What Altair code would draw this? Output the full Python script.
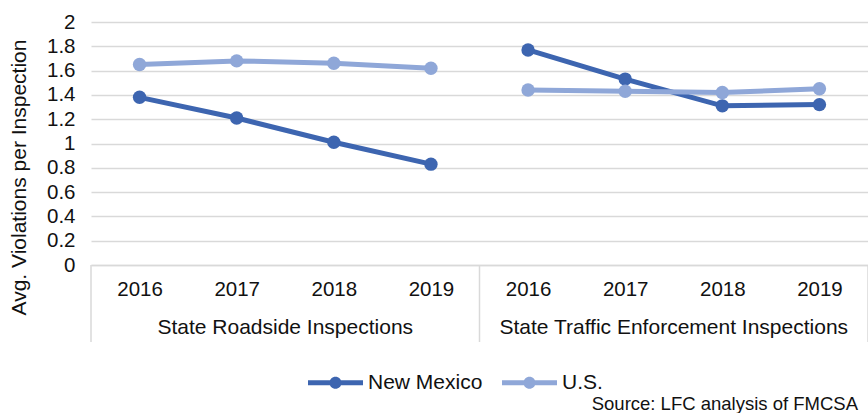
import altair as alt
import pandas as pd

# Source values (average violations per inspection)
groups = ["State Roadside Inspections", "State Traffic Enforcement Inspections"]
years = ["2016", "2017", "2018", "2019"]
series = ["New Mexico", "U.S."]
nm_roadside = [1.38, 1.21, 1.01, 0.83]
us_roadside = [1.65, 1.68, 1.66, 1.62]
nm_traffic = [1.77, 1.53, 1.31, 1.32]
us_traffic = [1.44, 1.43, 1.42, 1.45]
y_ticks = [0, 0.2, 0.4, 0.6, 0.8, 1, 1.2, 1.4, 1.6, 1.8, 2]

colors = ["#3D65B0", "#8FA7D8"]
FONT = "Liberation Sans"
TEXT = "#111111"
GRID = "#D9D9D9"

values = {
    (groups[0], series[0]): nm_roadside,
    (groups[0], series[1]): us_roadside,
    (groups[1], series[0]): nm_traffic,
    (groups[1], series[1]): us_traffic,
}

rows = []
for gi, g in enumerate(groups):
    for s in series:
        for yi, yr in enumerate(years):
            rows.append({
                "group": g,
                "series": s,
                "year": yr,
                "pos": gi * len(years) + yi + 0.5,
                "value": values[(g, s)][yi],
            })
df = pd.DataFrame(rows)

n = len(years)
sep_df = pd.DataFrame({"pos": [i * n for i in range(len(groups) + 1)]})
grp_df = pd.DataFrame({"group": groups, "pos": [i * n + n / 2 for i in range(len(groups))]})

W, H = 777, 243
tick_pos = [i + 0.5 for i in range(len(groups) * n)]
year_expr = "[" + ",".join(f"'{y}'" for y in years) + f"][floor(datum.value) % {n}]"

x_scale = alt.Scale(domain=[0, len(groups) * n], nice=False, zero=False)
y_scale = alt.Scale(domain=[0, 2], nice=False)

x_axis = alt.Axis(
    values=tick_pos, labelExpr=year_expr, grid=False, ticks=False,
    domain=True, domainColor=GRID, domainWidth=1.5,
    labelFont=FONT, labelFontSize=20.5, labelColor=TEXT, labelPadding=14,
    labelOverlap=False, title=None,
)
y_axis = alt.Axis(
    values=y_ticks, format="~g", grid=True, gridColor=GRID, gridWidth=1.5,
    ticks=False, domain=False, labelOverlap=False, labelBound=False,
    labelFont=FONT, labelFontSize=20.5, labelColor=TEXT, labelPadding=16,
    title="Avg. Violations per Inspection",
    titleFont=FONT, titleFontSize=21, titleFontWeight="normal", titleColor=TEXT,
    titleAngle=-90, titleX=-72, titleY=155, titleAlign="center", titleBaseline="middle",
)

legend_symbol = (
    "M-1,-0.09L1,-0.09L1,0.09L-1,0.09Z "
    "M-0.22,0A0.22,0.22,0,1,1,0.22,0A0.22,0.22,0,1,1,-0.22,0Z"
)
legend = alt.Legend(
    title=None, orient="none", direction="horizontal",
    legendX=217, legendY=333,
    symbolType=legend_symbol, symbolSize=3025, symbolStrokeWidth=0,
    symbolOpacity=1,
    labelFont=FONT, labelFontSize=21, labelColor=TEXT,
    labelOffset=5, columnPadding=19,
)
color_scale = alt.Scale(domain=series, range=colors)

x_enc = alt.X("pos:Q", scale=x_scale, axis=x_axis)
y_enc = alt.Y("value:Q", scale=y_scale, axis=y_axis)
color_enc = alt.Color("series:N", scale=color_scale, legend=legend)

base = alt.Chart(df)

lines = base.mark_line(strokeWidth=5).encode(
    x=x_enc, y=y_enc, color=color_enc, detail="group:N",
)

points = base.mark_point(filled=True, size=180, opacity=1).encode(
    x=x_enc, y=y_enc, color=color_enc,
)

separators = alt.Chart(sep_df).mark_rule(color=GRID, strokeWidth=1.5).encode(
    x=x_enc,
    y=alt.value(H),
    y2=alt.value(H + 77),
)

group_labels = alt.Chart(grp_df).mark_text(
    font=FONT, fontSize=21, color=TEXT, baseline="middle", align="center"
).encode(
    x=x_enc,
    y=alt.value(H + 63),
    text="group:N",
)

source = alt.Chart(pd.DataFrame({"t": ["Source: LFC analysis of FMCSA"]})).mark_text(
    font=FONT, fontSize=18.5, color=TEXT, align="right", baseline="middle"
).encode(
    x=alt.value(W - 10),
    y=alt.value(H + 139),
    text="t:N",
)

chart = (
    alt.layer(separators, lines, points, group_labels, source)
    .properties(
        width=W, height=H,
        autosize=alt.AutoSizeParams(type="none"),
        padding={"left": 91, "top": 22, "right": 0, "bottom": 148},
        background="white",
    )
    .configure_view(stroke=None)
)

chart.save("out.html", embed_options={"renderer": "svg", "actions": False})
